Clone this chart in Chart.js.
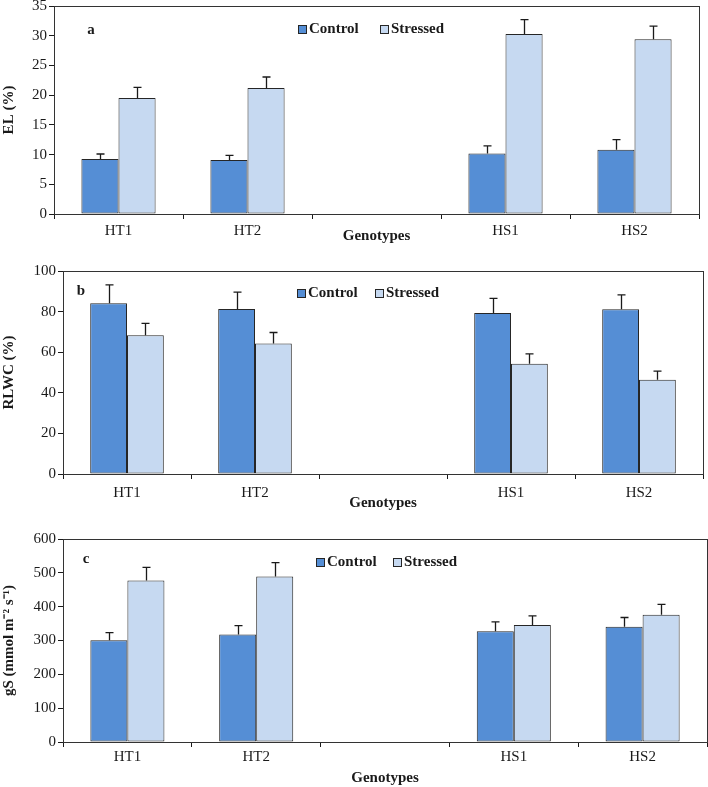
<!DOCTYPE html>
<html>
<head>
<meta charset="utf-8">
<script src="https://cdn.jsdelivr.net/npm/chart.js@4/dist/chart.umd.min.js"></script>
<style>
  html, body { margin: 0; padding: 0; background: #fff; }
  body { position: relative; width: 708px; height: 787px; overflow: hidden; }
  canvas { position: absolute; left: 0; }
</style>
</head>
<body>
<canvas id="chartA"></canvas>
<canvas id="chartB"></canvas>
<canvas id="chartC"></canvas>
<script>
// ---------- data ----------
const categories = ['HT1', 'HT2', '', 'HS1', 'HS2'];
const seriesNames = ['Control', 'Stressed'];

// a: electrolyte leakage
const elControl = [9.25, 9.1, null, 10.2, 10.8];
const elStressed = [19.5, 21.2, null, 30.3, 29.4];
const elControlErr = [0.85, 0.75, null, 1.25, 1.7];
const elStressedErr = [1.8, 1.85, null, 2.4, 2.2];

// b: relative leaf water content
const rlwcControl = [84.1, 81.3, null, 79.3, 81.1];
const rlwcStressed = [68.3, 64.3, null, 54.3, 46.4];
const rlwcControlErr = [9.1, 8.3, null, 7.2, 7.1];
const rlwcStressedErr = [5.9, 5.4, null, 4.9, 4.3];

// c: stomatal conductance
const gsControl = [301, 318, null, 327, 341];
const gsStressed = [477, 489, null, 346, 376];
const gsControlErr = [22, 26, null, 28, 27];
const gsStressedErr = [39, 41, null, 27, 31];

// ---------- style ----------
const FONT = "'Liberation Serif', 'Times New Roman', serif";
const INK = '#1a1a1a';
const CONTROL_COLOR = '#558ed5';
const STRESSED_COLOR = '#c6d9f1';
const EDGE = '#262626';

const panels = [
    { canvas: 'chartA', letter: 'a', top: 0, height: 245, plot: { left: 54, top: 6, right: 699, bottom: 214 },
      yMax: 35, step: 5, yTitle: 'EL (%)', tickPad: 3,
      control: elControl, stressed: elStressed, controlErr: elControlErr, stressedErr: elStressedErr,
      legend: { x1: 244, x2: 326, y: 23 }, mark: { x: 37, y: 24 } },
    { canvas: 'chartB', letter: 'b', top: 255, height: 257, plot: { left: 63, top: 271, right: 703, bottom: 474 },
      yMax: 100, step: 20, yTitle: 'RLWC (%)', tickPad: 5,
      control: rlwcControl, stressed: rlwcStressed, controlErr: rlwcControlErr, stressedErr: rlwcStressedErr,
      legend: { x1: 234, x2: 312, y: 22 }, mark: { x: 18, y: 20 } },
    { canvas: 'chartC', letter: 'c', top: 522, height: 265, plot: { left: 63, top: 539, right: 707, bottom: 742 },
      yMax: 600, step: 100, yTitle: 'gS (mmol m\u207B\u00B2 s\u207B\u00B9)', tickPad: 1,
      control: gsControl, stressed: gsStressed, controlErr: gsControlErr, stressedErr: gsStressedErr,
      legend: { x1: 253, x2: 330, y: 23 }, mark: { x: 23, y: 20 } },
];

// error bars, frame, legend and panel letter
const overlay = {
    id: 'overlay',
    afterDatasetsDraw(chart, args, opts) {
        const ctx = chart.ctx;
        const y = chart.scales.y;
        ctx.save();
        ctx.strokeStyle = INK;
        ctx.lineWidth = 1.3;
        chart.data.datasets.forEach((ds, i) => {
            chart.getDatasetMeta(i).data.forEach((bar, j) => {
                const v = ds.data[j], e = ds.errors[j];
                if (v == null || e == null) return;
                const x = Math.round(bar.x) + 0.5;
                const yTop = y.getPixelForValue(v + e);
                ctx.beginPath();
                ctx.moveTo(x, bar.y);
                ctx.lineTo(x, yTop);
                ctx.moveTo(x - 4, yTop);
                ctx.lineTo(x + 4, yTop);
                ctx.stroke();
            });
        });
        ctx.restore();
    },
    afterDraw(chart, args, opts) {
        const ctx = chart.ctx;
        const a = chart.chartArea;
        ctx.save();
        ctx.strokeStyle = '#333';
        ctx.lineWidth = 1;
        ctx.strokeRect(Math.round(a.left) + 0.5, Math.round(a.top) + 0.5,
            Math.round(a.right - a.left), Math.round(a.bottom - a.top));

        // legend inside the plot
        ctx.font = 'bold 15px ' + FONT;
        ctx.textBaseline = 'middle';
        ctx.textAlign = 'left';
        const ly = a.top + opts.legend.y;
        [opts.legend.x1, opts.legend.x2].forEach((lx, i) => {
            const ds = chart.data.datasets[i];
            const bx = a.left + lx;
            ctx.fillStyle = ds.backgroundColor;
            ctx.fillRect(bx, ly - 4, 8, 8);
            ctx.strokeStyle = EDGE;
            ctx.strokeRect(bx + 0.5, ly - 3.5, 8, 8);
            ctx.fillStyle = INK;
            ctx.fillText(ds.label, bx + 11, ly);
        });

        // panel letter
        ctx.textAlign = 'center';
        ctx.fillText(opts.letter, a.left + opts.mark.x, a.top + opts.mark.y);
        ctx.restore();
    }
};

panels.forEach(p => {
    const canvas = document.getElementById(p.canvas);
    canvas.width = 708;
    canvas.height = p.height;
    canvas.style.top = p.top + 'px';
    canvas.style.width = '708px';
    canvas.style.height = p.height + 'px';

    new Chart(canvas, {
        type: 'bar',
        data: {
            labels: categories,
            datasets: [
                { label: seriesNames[0], data: p.control, errors: p.controlErr,
                  backgroundColor: CONTROL_COLOR, borderColor: EDGE, borderWidth: 1, borderSkipped: false,
                  categoryPercentage: 0.575, barPercentage: 1 },
                { label: seriesNames[1], data: p.stressed, errors: p.stressedErr,
                  backgroundColor: STRESSED_COLOR, borderColor: EDGE, borderWidth: 1, borderSkipped: false,
                  categoryPercentage: 0.575, barPercentage: 1 },
            ],
        },
        options: {
            responsive: false,
            animation: false,
            devicePixelRatio: 1,
            layout: { padding: { left: 0, top: p.plot.top - p.top, right: 708 - p.plot.right, bottom: 0 } },
            plugins: {
                legend: { display: false },
                tooltip: { enabled: false },
                overlay: { legend: p.legend, letter: p.letter, mark: p.mark },
            },
            scales: {
                x: {
                    offset: true,
                    grid: { display: true, offset: true, drawOnChartArea: false, drawTicks: true, tickLength: 5, color: INK },
                    border: { display: true, color: INK, width: 1 },
                    ticks: { color: INK, padding: p.tickPad, font: { family: FONT, size: 15 }, maxRotation: 0, autoSkip: false },
                    title: { display: true, text: 'Genotypes', color: INK, padding: 0, font: { family: FONT, size: 15, weight: 'bold' } },
                    afterFit(s) {
                        s.height = p.top + p.height - p.plot.bottom;
                        s.paddingLeft = 0; s.paddingRight = 0;
                    },
                },
                y: {
                    min: 0, max: p.yMax,
                    grid: { display: true, drawOnChartArea: false, drawTicks: true, tickLength: 5, color: INK },
                    border: { display: true, color: INK, width: 1 },
                    ticks: { stepSize: p.step, color: INK, padding: 2, font: { family: FONT, size: 15 } },
                    title: { display: true, text: p.yTitle, color: INK, padding: 0, font: { family: FONT, size: 15, weight: 'bold' } },
                    afterFit(s) {
                        s.width = p.plot.left;
                        s.paddingTop = 0; s.paddingBottom = 0;
                    },
                },
            },
        },
        plugins: [overlay],
    });
});
</script>
</body>
</html>
